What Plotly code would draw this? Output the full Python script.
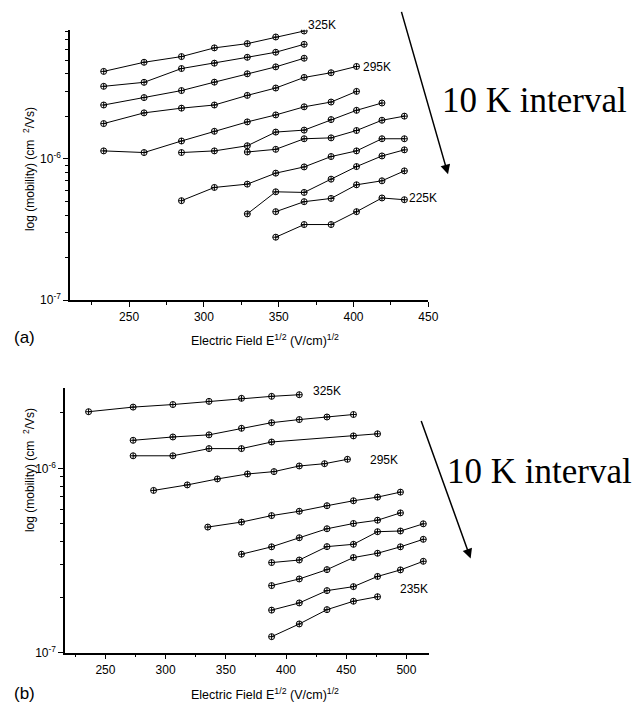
import plotly.graph_objects as go

W, H = 641, 710

# ---------------- panel (a) data : sqrt(E) in (V/cm)^1/2, mobility in cm^2/Vs
a_x_325 = [233, 260, 285, 307, 329, 348, 367]
a_y_325 = [4.17e-6, 4.84e-6, 5.31e-6, 6.12e-6, 6.56e-6, 7.31e-6, 8.06e-6]
a_x_315 = [233, 260, 285, 307, 329, 348, 367]
a_y_315 = [3.27e-6, 3.49e-6, 4.37e-6, 4.77e-6, 5.25e-6, 5.70e-6, 6.49e-6]
a_x_305 = [233, 260, 285, 307, 329, 348, 367]
a_y_305 = [2.41e-6, 2.72e-6, 3.05e-6, 3.50e-6, 4.01e-6, 4.49e-6, 5.17e-6]
a_x_295 = [233, 260, 285, 307, 329, 348, 367, 385, 402]
a_y_295 = [1.78e-6, 2.12e-6, 2.29e-6, 2.41e-6, 2.82e-6, 3.18e-6, 3.78e-6, 4.08e-6, 4.52e-6]
a_x_285 = [233, 260, 285, 307, 329, 348, 367, 385, 402]
a_y_285 = [1.14e-6, 1.11e-6, 1.34e-6, 1.57e-6, 1.83e-6, 2.05e-6, 2.34e-6, 2.53e-6, 3.01e-6]
a_x_275 = [285, 307, 329, 348, 367, 385, 402, 419]
a_y_275 = [1.11e-6, 1.14e-6, 1.24e-6, 1.55e-6, 1.60e-6, 1.90e-6, 2.21e-6, 2.49e-6]
a_x_265 = [329, 348, 367, 385, 402, 419, 434]
a_y_265 = [1.12e-6, 1.17e-6, 1.39e-6, 1.41e-6, 1.59e-6, 1.88e-6, 2.01e-6]
a_x_255 = [285, 307, 329, 348, 367, 385, 402, 419, 434]
a_y_255 = [5.06e-7, 6.28e-7, 6.63e-7, 7.93e-7, 8.78e-7, 1.04e-6, 1.14e-6, 1.39e-6, 1.39e-6]
a_x_245 = [329, 348, 367, 385, 402, 419, 434]
a_y_245 = [4.08e-7, 5.85e-7, 5.79e-7, 7.19e-7, 8.83e-7, 1.05e-6, 1.16e-6]
a_x_235 = [348, 367, 385, 402, 419, 434]
a_y_235 = [4.23e-7, 4.98e-7, 5.25e-7, 6.56e-7, 7.00e-7, 8.23e-7]
a_x_225 = [348, 367, 385, 402, 419, 434]
a_y_225 = [2.79e-7, 3.43e-7, 3.43e-7, 4.23e-7, 5.29e-7, 5.14e-7]

# ---------------- panel (b) data
b_x_325 = [236, 273, 306, 336, 363, 388, 411]
b_y_325 = [2.03e-6, 2.15e-6, 2.22e-6, 2.31e-6, 2.40e-6, 2.46e-6, 2.51e-6]
b_x_315 = [273, 306, 336, 363, 388, 411, 434, 456]
b_y_315 = [1.42e-6, 1.48e-6, 1.52e-6, 1.65e-6, 1.77e-6, 1.84e-6, 1.90e-6, 1.96e-6]
b_x_305 = [273, 306, 336, 363, 388, 456, 476]
b_y_305 = [1.17e-6, 1.17e-6, 1.28e-6, 1.28e-6, 1.39e-6, 1.50e-6, 1.54e-6]
b_x_295 = [290, 318, 343, 368, 390, 411, 432, 451]
b_y_295 = [7.59e-7, 8.13e-7, 8.76e-7, 9.32e-7, 9.60e-7, 1.03e-6, 1.06e-6, 1.12e-6]
b_x_285 = [335, 363, 388, 411, 434, 456, 476, 495]
b_y_285 = [4.80e-7, 5.11e-7, 5.54e-7, 5.85e-7, 6.27e-7, 6.67e-7, 6.98e-7, 7.43e-7]
b_x_275 = [363, 388, 411, 434, 456, 476, 495]
b_y_275 = [3.42e-7, 3.75e-7, 4.20e-7, 4.70e-7, 5.02e-7, 5.23e-7, 5.73e-7]
b_x_265 = [388, 411, 434, 456, 476, 495, 514]
b_y_265 = [3.08e-7, 3.18e-7, 3.76e-7, 3.87e-7, 4.53e-7, 4.57e-7, 5.00e-7]
b_x_255 = [388, 411, 434, 456, 476, 495, 514]
b_y_255 = [2.31e-7, 2.51e-7, 2.82e-7, 3.28e-7, 3.46e-7, 3.75e-7, 4.12e-7]
b_x_245 = [388, 411, 434, 456, 476, 495, 514]
b_y_245 = [1.70e-7, 1.86e-7, 2.17e-7, 2.28e-7, 2.59e-7, 2.81e-7, 3.13e-7]
b_x_235 = [388, 411, 434, 456, 476]
b_y_235 = [1.22e-7, 1.43e-7, 1.71e-7, 1.90e-7, 2.01e-7]

a_series = [(a_x_325, a_y_325), (a_x_315, a_y_315), (a_x_305, a_y_305), (a_x_295, a_y_295),
            (a_x_285, a_y_285), (a_x_275, a_y_275), (a_x_265, a_y_265), (a_x_255, a_y_255),
            (a_x_245, a_y_245), (a_x_235, a_y_235), (a_x_225, a_y_225)]
b_series = [(b_x_325, b_y_325), (b_x_315, b_y_315), (b_x_305, b_y_305), (b_x_295, b_y_295),
            (b_x_285, b_y_285), (b_x_275, b_y_275), (b_x_265, b_y_265), (b_x_255, b_y_255),
            (b_x_245, b_y_245), (b_x_235, b_y_235)]

a_xticks = [250, 300, 350, 400, 450]
b_xticks = [250, 300, 350, 400, 450, 500]
y_major = [1e-7, 1e-6]
y_major_text = ["10<sup>-7</sup>", "10<sup>-6</sup>"]
y_minor = [k * 1e-7 for k in range(2, 10)] + [k * 1e-6 for k in range(2, 10)]

FONT = "Arial"
fig = go.Figure()

marker = dict(symbol="circle-cross-open", size=6, color="black", line=dict(width=1, color="black"))
for xs, ys in a_series:
    fig.add_trace(go.Scatter(x=xs, y=ys, mode="lines+markers", xaxis="x", yaxis="y",
                             line=dict(color="black", width=1), marker=marker, showlegend=False))
for xs, ys in b_series:
    fig.add_trace(go.Scatter(x=xs, y=ys, mode="lines+markers", xaxis="x2", yaxis="y2",
                             line=dict(color="black", width=1), marker=marker, showlegend=False))

def fx(p):
    return p / W

def fy(p):
    return 1 - p / H

xcommon = dict(showline=True, linecolor="black", linewidth=1.5, ticks="outside", ticklen=5,
               tickwidth=1, tickcolor="black", showgrid=False, zeroline=False,
               tickfont=dict(family=FONT, size=12, color="black"),
               minor=dict(ticks="outside", ticklen=3, tickwidth=1, tickcolor="black", dtick=25))
ycommon = dict(type="log", showline=True, linecolor="black", linewidth=1.5, ticks="outside",
               ticklen=5, tickwidth=1, tickcolor="black", showgrid=False, zeroline=False,
               tickmode="array", tickvals=y_major, ticktext=y_major_text,
               tickfont=dict(family=FONT, size=12, color="black"),
               minor=dict(ticks="outside", ticklen=3, tickwidth=1, tickcolor="black",
                          tickmode="array", tickvals=y_minor))

fig.update_layout(
    width=W, height=H, margin=dict(l=0, r=0, t=0, b=0),
    paper_bgcolor="white", plot_bgcolor="white",
    xaxis=dict(xcommon, domain=[fx(63), fx(427)], range=[210.5, 450], anchor="y",
               tickmode="array", tickvals=a_xticks),
    yaxis=dict(ycommon, domain=[fy(295), fy(22)], range=[-7, -5.085], anchor="x"),
    xaxis2=dict(xcommon, domain=[fx(58), fx(428)], range=[216.5, 519], anchor="y2",
                tickmode="array", tickvals=b_xticks),
    yaxis2=dict(ycommon, domain=[fy(651), fy(384)], range=[-7, -5.565], anchor="x2"),
)

ann = []
def text(x, y, s, size, family=FONT, xanchor="center", angle=0):
    ann.append(dict(x=fx(x), y=fy(y), xref="paper", yref="paper", text=s, showarrow=False,
                    xanchor=xanchor, yanchor="middle", textangle=angle,
                    font=dict(family=family, size=size, color="black")))

xtitle = "Electric Field E<sup>1/2</sup> (V/cm)<sup>1/2</sup>"
ytitle = "log (mobility) (cm&nbsp;&nbsp;<sup>2</sup>/Vs)"
text(261, 335, xtitle, 12.5)
text(261, 693, xtitle, 12.5)
text(22, 163, ytitle, 12, angle=-90)
text(22, 467, ytitle, 12, angle=-90)
text(17, 333, "(a)", 17)
text(17, 692, "(b)", 17)
text(303, 17, "325K", 12, xanchor="left")
text(359, 60, "295K", 12, xanchor="left")
text(405, 192, "225K", 12, xanchor="left")
text(308, 387, "325K", 12, xanchor="left")
text(366, 457, "295K", 12, xanchor="left")
text(396, 587, "235K", 12, xanchor="left")
text(439, 93, "10 K interval", 35, family="Times New Roman", xanchor="left")
text(444, 468, "10 K interval", 35, family="Times New Roman", xanchor="left")

for (sx, sy, tx, ty) in [(400, 4, 447, 168), (420, 417, 470, 556)]:
    ann.append(dict(x=fx(tx), y=fy(ty), ax=sx - tx, ay=sy - ty, xref="paper", yref="paper",
                    axref="pixel", ayref="pixel", text="", showarrow=True, arrowhead=2,
                    arrowsize=1.3, arrowwidth=1.5, arrowcolor="black"))

fig.update_layout(annotations=ann)
fig.write_html("out.html")
